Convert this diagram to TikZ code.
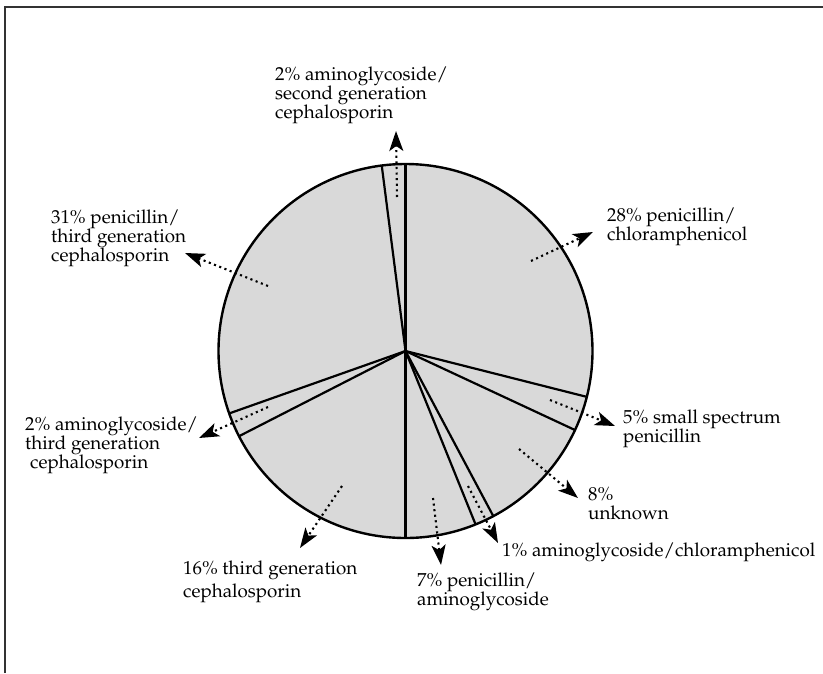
\documentclass[tikz,border=0pt]{standalone}
\usepackage[T1]{fontenc}
\renewcommand{\rmdefault}{ppl}
\usetikzlibrary{arrows.meta}
\tikzset{
  lbl/.style={anchor=north west,align=left,inner sep=0pt,font=\fontsize{18.8}{19}\selectfont},
  ptr/.style={-{Stealth[length=20pt,width=14pt,inset=5pt]},line width=2.1pt,dash pattern=on 2.1pt off 3.5pt},
  spoke/.style={line width=2.2pt}
}
\begin{document}
\begin{tikzpicture}[x=1pt,y=-1pt]
\useasboundingbox (0,0) rectangle (823,673);
\draw[line width=2pt,black!80] (5,673) -- (5,6.5) -- (823,6.5);
\coordinate (hub) at (405.5,351);
\begin{scope}[shift={(hub)},yscale=-1]
\fill[gray!30] (0,0) circle[radius=187];
\foreach \a in {90,97.3,199.5,207.1,270,292,298,335,345.8}
  \draw[spoke] (0,0) -- (\a:187);
\draw[line width=2.4pt] (0,0) circle[radius=187];
\end{scope}
\node[lbl] (sec2) at (275,67) {2\% aminoglycoside/\\second generation\\cephalosporin};
\node[lbl] (pc28) at (607,207.5) {28\% penicillin/\\chloramphenicol};
\node[lbl] (pc31) at (51,209.5) {31\% penicillin/\\third generation\\cephalosporin};
\node[lbl] (ag3) at (25,417) {2\% aminoglycoside/\\third generation\\\hspace*{5pt}cephalosporin};
\node[lbl] (ssp5) at (623,409.5) {5\% small spectrum\\penicillin};
\node[lbl] (unk8) at (588,487.5) {8\%\\unknown};
\node[lbl] (ac1) at (502,542.5) {1\% aminoglycoside/chloramphenicol};
\node[lbl] (pa7) at (417,573) {7\% penicillin/\\aminoglycoside};
\node[lbl] (tg16) at (183,561) {16\% third generation\\[4pt]cephalosporin};
\coordinate (s-sec2) at (397,197);  \coordinate (t-sec2) at (396,131);
\coordinate (s-pc28) at (531,261);  \coordinate (t-pc28) at (593,232);
\coordinate (s-pc31) at (268,286);  \coordinate (t-pc31) at (185,253);
\coordinate (s-ag3) at (268,407);   \coordinate (t-ag3) at (199,438);
\coordinate (s-ssp5) at (550,400);  \coordinate (t-ssp5) at (615,426);
\coordinate (s-unk8) at (519,449);  \coordinate (t-unk8) at (578,498);
\coordinate (s-ac1) at (468,486);   \coordinate (t-ac1) at (498,543);
\coordinate (s-pa7) at (433,498);   \coordinate (t-pa7) at (441,565);
\coordinate (s-tg16) at (342,486);  \coordinate (t-tg16) at (300,548);
\foreach \n in {sec2,pc28,pc31,ag3,ssp5,unk8,ac1,pa7,tg16}
  \draw[ptr] (s-\n) -- (t-\n);
\end{tikzpicture}
\end{document}
